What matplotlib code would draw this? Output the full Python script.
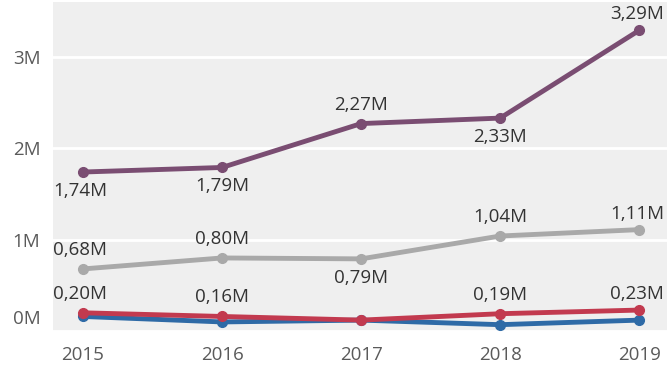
import numpy as np
import matplotlib.pyplot as plt
from matplotlib.transforms import ScaledTranslation

plt.rcParams['font.family'] = ['Open Sans', 'DejaVu Sans']

years = [2015, 2016, 2017, 2018, 2019]

purple = [1.74, 1.79, 2.27, 2.33, 3.29]
gray = [0.68, 0.80, 0.79, 1.04, 1.11]
red = [0.20, 0.16, 0.12, 0.19, 0.23]
blue = [0.16, 0.10, 0.12, 0.07, 0.12]

purple_labels = ['1,74M', '1,79M', '2,27M', '2,33M', '3,29M']
gray_labels = ['0,68M', '0,80M', '0,79M', '1,04M', '1,11M']
red_labels = ['0,20M', '0,16M', None, '0,19M', '0,23M']

# +1 above, -1 below
purple_side = [-1, -1, 1, -1, 1]
gray_side = [1, 1, -1, 1, 1]
red_side = [1, 1, 1, 1, 1]

fig = plt.figure(figsize=(6.67, 3.65), dpi=100)
ax = fig.add_axes([53/667, 1 - 332/365, 1 - 53/667, 330/365])
ax.set_facecolor('#efefef')

series = [
    (blue, '#2e6aa6', None, None),
    (red, '#c23a4f', red_labels, red_side),
    (gray, '#a9a9a9', gray_labels, gray_side),
    (purple, '#7a4d72', purple_labels, purple_side),
]

for vals, col, labels, side in series:
    ax.plot(years, vals, color=col, lw=3.5, marker='o', ms=7,
            solid_capstyle='round', zorder=3)
    if labels is None:
        continue
    for i, (x, y, lab, s) in enumerate(zip(years, vals, labels, side)):
        if lab is None:
            continue
        dx = -3 if i == 0 else 0
        dy = 19 * s
        if i == len(years) - 1:
            dx, dy = -2, 16 * s
        ax.annotate(lab, (x, y), xytext=(dx, dy), textcoords='offset pixels',
                    ha='center', va='center', fontsize=13.5, color='#333333',
                    zorder=4)

ax.set_xlim(2014.784, 2019.2)
ax.set_ylim(-0.01, 3.6)
ax.set_xticks(years)
ax.set_xticklabels([str(y) for y in years])
ax.set_yticks([0, 1, 2, 3])
ax.set_yticklabels(['0M', '1M', '2M', '3M'])
ax.grid(axis='y', color='white', lw=2)
ax.set_axisbelow(True)
for sp in ax.spines.values():
    sp.set_visible(False)
ax.tick_params(length=0, labelsize=13.5, colors='#5a5a5a')
ax.tick_params(axis='x', pad=10)
ax.tick_params(axis='y', pad=9)

# the 0M label sits a bit higher than its gridline
lab0 = ax.get_yticklabels()[0]
lab0.set_transform(lab0.get_transform() + ScaledTranslation(0, 14/100, fig.dpi_scale_trans))

fig.savefig('out.png', dpi=100)
